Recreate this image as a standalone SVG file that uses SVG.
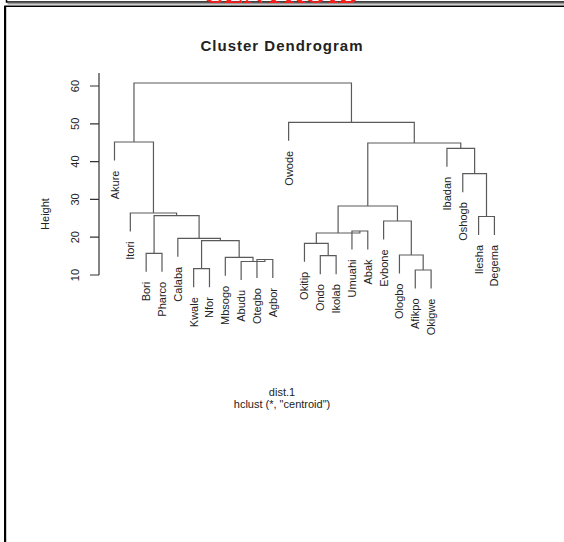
<svg xmlns="http://www.w3.org/2000/svg" width="564" height="542" viewBox="0 0 564 542">
<style>
.lbl{font-family:"Liberation Sans",Arial,sans-serif;font-size:11px;fill:#222;text-anchor:end}
.tick{font-family:"Liberation Sans",Arial,sans-serif;font-size:11px;fill:#222;text-anchor:middle}
.br{fill:none;stroke:#5a5a5a;stroke-width:1.2}
.ax{fill:none;stroke:#333;stroke-width:1.2}
</style>
<rect x="0" y="0" width="564" height="542" fill="#fff"/>
<g id="frame">
<path d="M6.5 0 V2 H564" fill="none" stroke="#000" stroke-width="1.5"/>
<path d="M7.5 3.6 H564" fill="none" stroke="#9a9a9a" stroke-width="1.6"/>
<path d="M5 542 V6.3 H564" fill="none" stroke="#000" stroke-width="1.6"/>
<rect x="4" y="6" width="2.2" height="536" fill="#000"/>
</g>
<text x="281" y="3.2" font-family="'Liberation Serif','Times New Roman',serif" font-size="29" font-weight="bold" fill="#ff1a1a" text-anchor="middle">CENTROID</text>
<text x="282" y="51" font-family="'Liberation Sans',Arial,sans-serif" font-size="15" font-weight="bold" letter-spacing="1" fill="#222" text-anchor="middle">Cluster Dendrogram</text>
<g id="axis">
<path class="ax" d="M99 73 V275 M90 275 H99 M90 237.2 H99 M90 199.4 H99 M90 161.6 H99 M90 123.8 H99 M90 86 H99"/>
<text class="tick" transform="translate(78.7,275) rotate(-90)">10</text>
<text class="tick" transform="translate(78.7,237.2) rotate(-90)">20</text>
<text class="tick" transform="translate(78.7,199.4) rotate(-90)">30</text>
<text class="tick" transform="translate(78.7,161.6) rotate(-90)">40</text>
<text class="tick" transform="translate(78.7,123.8) rotate(-90)">50</text>
<text class="tick" transform="translate(78.7,86) rotate(-90)">60</text>
<text class="tick" transform="translate(49,214) rotate(-90)">Height</text>
</g>
<g id="connectors">
<path class="br" d="M133.98 142 V83 H351.46 V122.3"/>
<path class="br" d="M114.5 160.5 V142 H153.46 V213"/>
<path class="br" d="M130.33 231.5 V213 H176.58 V215.7"/>
<path class="br" d="M154.08 253.3 V215.7 H199.09 V238.3"/>
<path class="br" d="M146.16 271.8 V253.3 H161.99 V271.8"/>
<path class="br" d="M177.82 256.8 V238.3 H220.36 V240.7"/>
<path class="br" d="M201.57 268.7 V240.7 H239.16 V257.3"/>
<path class="br" d="M193.65 287.2 V268.7 H209.48 V287.2"/>
<path class="br" d="M225.31 275.8 V257.3 H253.01 V261.5"/>
<path class="br" d="M241.14 280 V261.5 H264.89 V259.5"/>
<path class="br" d="M256.97 278 V259.5 H272.8 V278"/>
<path class="br" d="M288.63 140.8 V122.3 H414.28 V143"/>
<path class="br" d="M367.78 206 V143 H460.78 V148.3"/>
<path class="br" d="M338.1 233 V206 H397.46 V221"/>
<path class="br" d="M316.33 243.3 V233 H359.87 V231"/>
<path class="br" d="M304.46 261.8 V243.3 H328.2 V255.7"/>
<path class="br" d="M320.29 274.2 V255.7 H336.12 V274.2"/>
<path class="br" d="M351.95 249.5 V231 H367.78 V249.5"/>
<path class="br" d="M383.61 239.5 V221 H411.31 V255"/>
<path class="br" d="M399.44 273.5 V255 H423.18 V270"/>
<path class="br" d="M415.27 288.5 V270 H431.1 V288.5"/>
<path class="br" d="M446.93 166.8 V148.3 H474.63 V173.7"/>
<path class="br" d="M462.76 192.2 V173.7 H486.5 V216.5"/>
<path class="br" d="M478.59 235 V216.5 H494.42 V235"/>
</g>
<g id="leaf-Akure"><text class="lbl" transform="translate(118.5,170.5) rotate(-90)">Akure</text></g>
<g id="leaf-Itori"><text class="lbl" transform="translate(134.33,241.5) rotate(-90)">Itori</text></g>
<g id="leaf-Bori"><text class="lbl" transform="translate(150.16,281.8) rotate(-90)">Bori</text></g>
<g id="leaf-Pharco"><text class="lbl" transform="translate(165.99,281.8) rotate(-90)">Pharco</text></g>
<g id="leaf-Calaba"><text class="lbl" transform="translate(181.82,266.8) rotate(-90)">Calaba</text></g>
<g id="leaf-Kwale"><text class="lbl" transform="translate(197.65,297.2) rotate(-90)">Kwale</text></g>
<g id="leaf-Nfor"><text class="lbl" transform="translate(213.48,297.2) rotate(-90)">Nfor</text></g>
<g id="leaf-Mbsogo"><text class="lbl" transform="translate(229.31,285.8) rotate(-90)">Mbsogo</text></g>
<g id="leaf-Abudu"><text class="lbl" transform="translate(245.14,290) rotate(-90)">Abudu</text></g>
<g id="leaf-Otegbo"><text class="lbl" transform="translate(260.97,288) rotate(-90)">Otegbo</text></g>
<g id="leaf-Agbor"><text class="lbl" transform="translate(276.8,288) rotate(-90)">Agbor</text></g>
<g id="leaf-Owode"><text class="lbl" transform="translate(292.63,150.8) rotate(-90)">Owode</text></g>
<g id="leaf-Okitip"><text class="lbl" transform="translate(308.46,271.8) rotate(-90)">Okitip</text></g>
<g id="leaf-Ondo"><text class="lbl" transform="translate(324.29,284.2) rotate(-90)">Ondo</text></g>
<g id="leaf-Ikolab"><text class="lbl" transform="translate(340.12,284.2) rotate(-90)">Ikolab</text></g>
<g id="leaf-Umuahi"><text class="lbl" transform="translate(355.95,259.5) rotate(-90)">Umuahi</text></g>
<g id="leaf-Abak"><text class="lbl" transform="translate(371.78,259.5) rotate(-90)">Abak</text></g>
<g id="leaf-Evbone"><text class="lbl" transform="translate(387.61,249.5) rotate(-90)">Evbone</text></g>
<g id="leaf-Ologbo"><text class="lbl" transform="translate(403.44,283.5) rotate(-90)">Ologbo</text></g>
<g id="leaf-Afikpo"><text class="lbl" transform="translate(419.27,298.5) rotate(-90)">Afikpo</text></g>
<g id="leaf-Okigwe"><text class="lbl" transform="translate(435.1,298.5) rotate(-90)">Okigwe</text></g>
<g id="leaf-Ibadan"><text class="lbl" transform="translate(450.93,176.8) rotate(-90)">Ibadan</text></g>
<g id="leaf-Oshogb"><text class="lbl" transform="translate(466.76,202.2) rotate(-90)">Oshogb</text></g>
<g id="leaf-Ilesha"><text class="lbl" transform="translate(482.59,245) rotate(-90)">Ilesha</text></g>
<g id="leaf-Degema"><text class="lbl" transform="translate(498.42,245) rotate(-90)">Degema</text></g>
<text class="tick" x="282" y="396">dist.1</text>
<text class="tick" x="282" y="408">hclust (*, "centroid")</text>
</svg>
